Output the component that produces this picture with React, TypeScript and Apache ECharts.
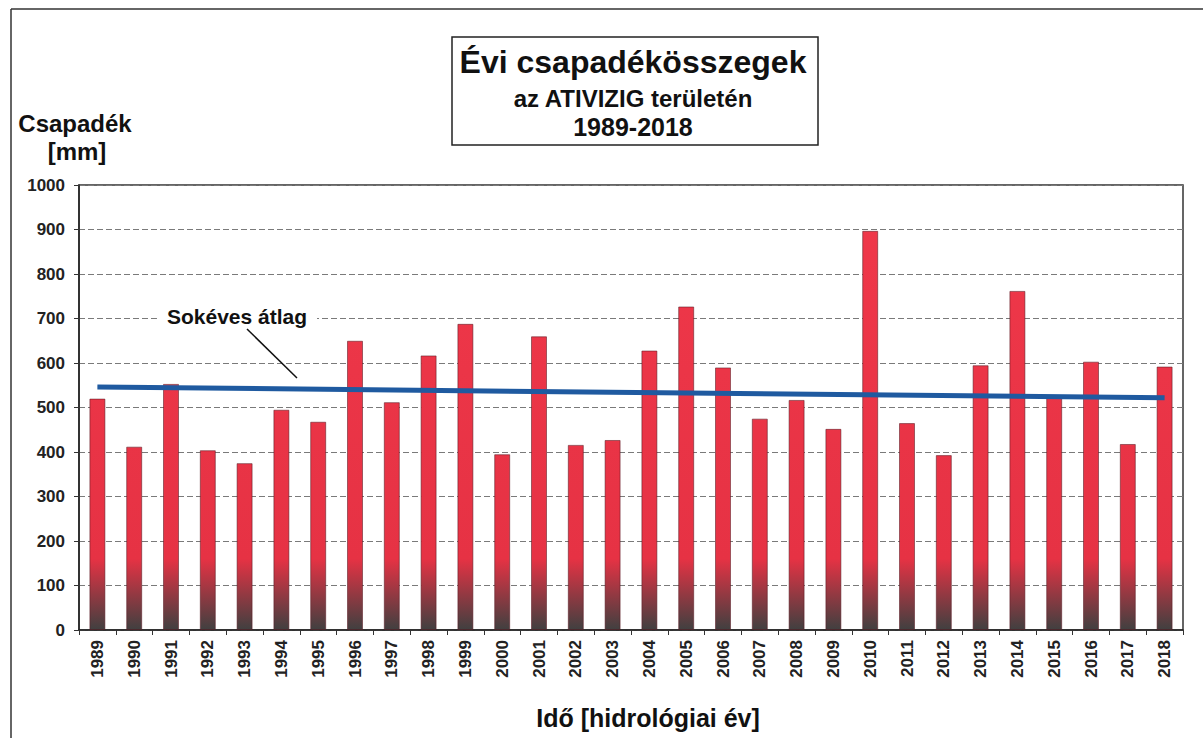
import React, { useEffect, useRef } from "react";
import * as echarts from "echarts";

const years = [
  "1989", "1990", "1991", "1992", "1993", "1994", "1995", "1996", "1997", "1998",
  "1999", "2000", "2001", "2002", "2003", "2004", "2005", "2006", "2007", "2008",
  "2009", "2010", "2011", "2012", "2013", "2014", "2015", "2016", "2017", "2018",
];
const precipitation = [
  520, 412, 553, 404, 375, 495, 468, 650, 512, 617,
  688, 395, 660, 416, 427, 628, 727, 590, 475, 517,
  452, 897, 465, 393, 595, 762, 522, 603, 418, 592,
];
const averageStart = 546;
const averageEnd = 522;
const yTicks = { min: 0, max: 1000, interval: 100 };

const FONT = "'Liberation Sans', Arial, Helvetica, sans-serif";

export default function App() {
  const ref = useRef<HTMLDivElement>(null);

  useEffect(() => {
    if (!ref.current) return;
    const chart = echarts.init(ref.current, undefined, { renderer: "svg" });
    chart.setOption({
      animation: false,
      backgroundColor: "#ffffff",
      grid: {
        left: 79,
        right: 20,
        top: 185,
        bottom: 108,
        show: true,
        borderColor: "#333",
        borderWidth: 1.5,
        containLabel: false,
      },
      xAxis: {
        type: "category",
        data: years,
        boundaryGap: true,
        axisLine: { show: true, lineStyle: { color: "#222", width: 1.5 } },
        axisTick: { show: true, alignWithLabel: false, length: 5, lineStyle: { color: "#333" } },
        axisLabel: {
          rotate: 90,
          fontFamily: FONT,
          fontWeight: "bold",
          fontSize: 17,
          color: "#222",
          margin: 10,
        },
        splitLine: { show: false },
      },
      yAxis: {
        type: "value",
        min: yTicks.min,
        max: yTicks.max,
        interval: yTicks.interval,
        axisLine: { show: true, lineStyle: { color: "#222", width: 1.5 } },
        axisTick: { show: true, length: 5, lineStyle: { color: "#333" } },
        axisLabel: {
          fontFamily: FONT,
          fontWeight: "bold",
          fontSize: 17,
          color: "#222",
          margin: 14,
          formatter: (v: number) => String(v),
        },
        splitLine: {
          show: true,
          lineStyle: { color: "#7a7a7a", type: [6, 3], width: 1 },
        },
      },
      series: [
        {
          type: "bar",
          data: precipitation,
          barWidth: 16,
          itemStyle: {
            color: {
              type: "linear",
              global: true,
              x: 0,
              y: 185,
              x2: 0,
              y2: 630,
              colorStops: [
                { offset: 0, color: "#f0384a" },
                { offset: 0.84, color: "#e63244" },
                { offset: 1, color: "#404040" },
              ],
            },
            borderColor: "rgba(90,25,35,0.55)",
            borderWidth: 1,
          },
          markLine: {
            silent: true,
            symbol: ["none", "none"],
            label: { show: false },
            lineStyle: { color: "#1f5aa0", width: 5, type: "solid" },
            data: [
              [
                { coord: [years[0], averageStart] },
                { coord: [years[years.length - 1], averageEnd] },
              ],
            ],
          },
        },
      ],
      graphic: [
        { type: "line", shape: { x1: 11, y1: 9, x2: 11, y2: 738 }, style: { stroke: "#333", lineWidth: 1.5 } },
        { type: "line", shape: { x1: 11, y1: 9, x2: 1203, y2: 9 }, style: { stroke: "#333", lineWidth: 1.5 } },
        {
          type: "rect",
          shape: { x: 452, y: 37, width: 366, height: 108 },
          style: { fill: "#fff", stroke: "#222", lineWidth: 1.5 },
        },
        {
          type: "text",
          x: 633,
          y: 62,
          style: {
            text: "Évi csapadékösszegek",
            font: `bold 32px ${FONT}`,
            fill: "#111",
            align: "center",
            verticalAlign: "middle",
          },
        },
        {
          type: "text",
          x: 633,
          y: 98,
          style: {
            text: "az ATIVIZIG területén",
            font: `bold 24px ${FONT}`,
            fill: "#111",
            align: "center",
            verticalAlign: "middle",
          },
        },
        {
          type: "text",
          x: 633,
          y: 127,
          style: {
            text: "1989-2018",
            font: `bold 25px ${FONT}`,
            fill: "#111",
            align: "center",
            verticalAlign: "middle",
          },
        },
        {
          type: "text",
          x: 75,
          y: 123,
          style: {
            text: "Csapadék",
            font: `bold 24px ${FONT}`,
            fill: "#111",
            align: "center",
            verticalAlign: "middle",
          },
        },
        {
          type: "text",
          x: 77,
          y: 151,
          style: {
            text: "[mm]",
            font: `bold 24px ${FONT}`,
            fill: "#111",
            align: "center",
            verticalAlign: "middle",
          },
        },
        {
          type: "text",
          x: 648,
          y: 718,
          style: {
            text: "Idő [hidrológiai év]",
            font: `bold 25px ${FONT}`,
            fill: "#111",
            align: "center",
            verticalAlign: "middle",
          },
        },
        {
          type: "text",
          x: 237,
          y: 316,
          z: 10,
          style: {
            text: "Sokéves átlag",
            font: `bold 21px ${FONT}`,
            fill: "#111",
            align: "center",
            verticalAlign: "middle",
            backgroundColor: "#fff",
            padding: [2, 10, 2, 10],
          },
        },
        {
          type: "line",
          z: 10,
          shape: { x1: 247, y1: 329, x2: 297, y2: 378 },
          style: { stroke: "#111", lineWidth: 1.5 },
        },
      ],
    });
    return () => chart.dispose();
  }, []);

  return (
    <div
      ref={ref}
      style={{ position: "fixed", left: 0, top: 0, width: 1203, height: 738 }}
    />
  );
}
